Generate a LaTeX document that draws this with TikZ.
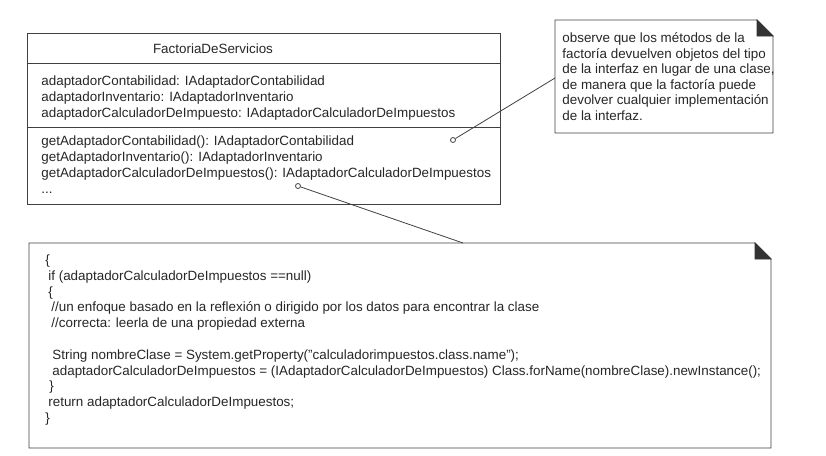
\documentclass[tikz,border=0pt]{standalone}
\usepackage{fontspec}
\setmainfont{Liberation Sans}
\begin{document}
\begin{tikzpicture}[x=1pt, y=-1pt, line width=.8pt, black!75,
  txt/.style={anchor=base west, inner sep=0pt, text=black!85, font=\fontsize{13.4}{16}\selectfont},
  hole/.style={circle, draw=black!75, fill=white, inner sep=0pt, minimum size=5pt},
  dogear/.style={fill=black!80, draw=black!80}]
\useasboundingbox (0,0) rectangle (826,455);

% la clase
\draw (27,33) rectangle (500,204);
\draw (27,63) -- (500,63);
\draw (27,127) -- (500,127);
\node[txt, anchor=base] (clase) at (213,53) {FactoriaDeServicios};
\foreach \t [count=\i from 0] in {adaptadorContabilidad: IAdaptadorContabilidad,
    adaptadorInventario: IAdaptadorInventario,
    adaptadorCalculadorDeImpuesto: IAdaptadorCalculadorDeImpuestos}
  \node[txt] (attr\i) at (41,85+16*\i) {\t};
\foreach \t [count=\i from 0] in {getAdaptadorContabilidad(): IAdaptadorContabilidad,
    getAdaptadorInventario(): IAdaptadorInventario,
    getAdaptadorCalculadorDeImpuestos(): IAdaptadorCalculadorDeImpuestos}
  \node[txt] (met\i) at (41,145+16*\i) {\t};
\node[txt] (met3) at (41,193) {...};

% nota de arriba
\draw (555,20) -- (757,20) -- (773,36) -- (773,133) -- (555,133) -- cycle;
\draw[dogear] (757,20) -- (773,36) -- (757,36) -- cycle;
\foreach \t [count=\i from 0] in {observe que los métodos de la,
    factoría devuelven objetos del tipo,
    {de la interfaz en lugar de una clase,},
    de manera que la factoría puede,
    devolver cualquier implementación,
    de la interfaz.}
  \node[txt] (nota\i) at (562,42.5+15.5*\i) {\t};
\coordinate (nota) at (555,78);

% nota del codigo
\draw (29,243) -- (755,243) -- (771,259) -- (771,448) -- (29,448) -- cycle;
\draw[dogear] (755,243) -- (771,259) -- (755,259) -- cycle;
\foreach \dx/\k/\t in {45/0/\{,
    48/1/{if (adaptadorCalculadorDeImpuestos ==null)},
    48/2/\{,
    51/3/{//un enfoque basado en la reflexión o dirigido por los datos para encontrar la clase},
    51/4/{//correcta: leerla de una propiedad externa},
    52/6/{String nombreClase = System.getProperty("calculadorimpuestos.class.name");},
    52/7/{adaptadorCalculadorDeImpuestos = (IAdaptadorCalculadorDeImpuestos) Class.forName(nombreClase).newInstance();},
    49/8/\},
    48/9/{return adaptadorCalculadorDeImpuestos;},
    45/10/\}}
  \node[txt] (cod\k) at (\dx,264.5+15.8*\k) {\t};
\coordinate (codigo) at (463,243);

% conectores
\node[hole] (p1) at (453,140) {};
\node[hole] (p2) at (298,186) {};
\draw (p1) -- (nota);
\draw (p2) -- (codigo);

\end{tikzpicture}
\end{document}
